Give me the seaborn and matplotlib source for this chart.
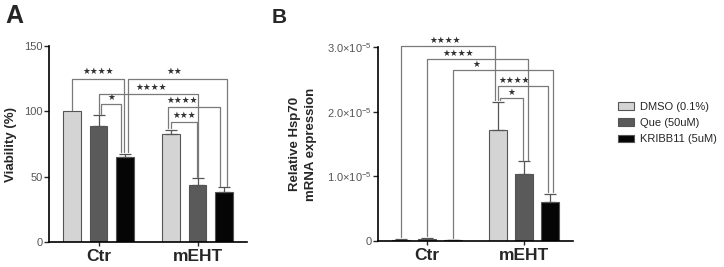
import matplotlib
matplotlib.use("Agg")
import matplotlib.pyplot as plt
import seaborn as sns
import pandas as pd
from matplotlib.patches import Patch

groups = ["Ctr", "mEHT"]
treatments = ["DMSO (0.1%)", "Que (50uM)", "KRIBB11 (5uM)"]
colors = ["#d4d4d4", "#5a5a5a", "#050505"]

# panel A: viability (%), rows = treatment, cols = group
via_mean = [[100, 83], [89, 43.5], [65, 38]]
via_sd = [[0, 3], [8, 5.5], [2.5, 4]]

# panel B: relative Hsp70 mRNA
hsp_mean = [[0.02e-5, 1.72e-5], [0.03e-5, 1.04e-5], [0.01e-5, 0.60e-5]]
hsp_sd = [[0.01e-5, 0.43e-5], [0.02e-5, 0.19e-5], [0.005e-5, 0.13e-5]]

# brackets: (bar a, bar b, height, label, leg dx a, leg dx b, text dx); bar = (treatment, group)
brackets_a = [
    ((0, 0), (2, 0), 125, "★★★★", 0.0, -0.01, 0.0),
    ((2, 0), (2, 1), 125, "★★", 0.035, 0.03, -0.03),
    ((1, 0), (1, 1), 113, "★★★★", 0.0, 0.01, 0.03),
    ((1, 0), (2, 0), 105.5, "★", 0.025, -0.04, 0.0),
    ((0, 1), (2, 1), 103, "★★★★", -0.03, -0.035, -0.12),
    ((0, 1), (1, 1), 91.5, "★★★", 0.0, -0.01, 0.0),
]
brackets_b = [
    ((0, 0), (0, 1), 3.02e-5, "★★★★", 0.0, -0.035, -0.03),
    ((1, 0), (1, 1), 2.82e-5, "★★★★", 0.0, 0.04, -0.2),
    ((2, 0), (2, 1), 2.64e-5, "★", 0.0, 0.025, -0.27),
    ((0, 1), (2, 1), 2.40e-5, "★★★★", 0.0, -0.025, -0.09),
    ((0, 1), (1, 1), 2.21e-5, "★", 0.02, -0.013, 0.0),
]

sns.set_style("ticks")
plt.rcParams["font.family"] = ["Liberation Sans", "DejaVu Sans"]
plt.rcParams["mathtext.fontset"] = "custom"
plt.rcParams["mathtext.rm"] = "Liberation Sans"
plt.rcParams["mathtext.it"] = "Liberation Sans"


def make_df(means):
    rows = []
    for t, tr in enumerate(treatments):
        for g, gr in enumerate(groups):
            rows.append({"group": gr, "treatment": tr, "value": means[t][g]})
    return pd.DataFrame(rows)


def draw_panel(ax, means, sds, brackets, ymax, gap_y, text_off):
    df = make_df(means)
    sns.barplot(data=df, x="group", y="value", hue="treatment", hue_order=treatments,
                palette=colors, width=0.8, gap=0.32, errorbar=None, legend=False,
                edgecolor="#555555", linewidth=0.8, ax=ax)
    bar_conts = list(ax.containers)
    centers = {}
    tops = {}
    for t, cont in enumerate(bar_conts):
        for g, bar in enumerate(cont):
            cx = bar.get_x() + bar.get_width() / 2
            centers[(t, g)] = cx
            tops[(t, g)] = means[t][g] + sds[t][g]
            if sds[t][g] > 0:
                ax.errorbar(cx, means[t][g], yerr=[[0], [sds[t][g]]], fmt="none",
                            ecolor="#555555", elinewidth=0.9, capsize=4, capthick=0.9)
    for a, b, h, lab, dxa, dxb, tdx in brackets:
        xa = centers[a] + dxa
        xb = centers[b] + dxb
        ya = tops[a] + gap_y
        yb = tops[b] + gap_y
        ax.plot([xa, xa, xb, xb], [ya, h, h, yb], color="#7a7a7a", lw=0.9,
                clip_on=False, zorder=5)
        ax.annotate(lab, ((xa + xb) / 2 + tdx, h), xytext=(0, text_off),
                    textcoords="offset points", ha="center", va="center",
                    fontsize=6.3, color="#333333", family="DejaVu Sans",
                    annotation_clip=False)
    ax.set_xlim(-0.5, 1.5)
    ax.set_ylim(0, ymax)
    ax.set_xlabel("")
    sns.despine(ax=ax)
    for s in ["left", "bottom"]:
        ax.spines[s].set_linewidth(1.2)
        ax.spines[s].set_color("black")
    ax.tick_params(axis="y", length=3.5, width=1, pad=1, labelsize=8, labelcolor="#555555")
    ax.tick_params(axis="x", length=3, width=1, pad=2, labelsize=12.5)
    for lbl in ax.get_xticklabels():
        lbl.set_fontweight("bold")


fig = plt.figure(figsize=(7.24, 2.67), dpi=100)
axA = fig.add_axes([49 / 724, 25 / 267, 198 / 724, 196 / 267])
axB = fig.add_axes([378 / 724, 26 / 267, 195 / 724, 194 / 267])

draw_panel(axA, via_mean, via_sd, brackets_a, 150, 1.0, 5)
axA.set_yticks([0, 50, 100, 150])
axA.set_ylabel("Viability (%)", fontsize=9.5, fontweight="bold")
axA.yaxis.set_label_coords(-0.16, 0.5)

draw_panel(axB, hsp_mean, hsp_sd, brackets_b, 3e-5, 0.03e-5, 4)
axB.set_yticks([0, 1e-5, 2e-5, 3e-5])
axB.set_yticklabels(["0"] + [f"{v:.1f}×10$^{{-5}}$" for v in [1, 2, 3]])
axB.set_ylabel("Relative Hsp70\nmRNA expression", fontsize=9.5, fontweight="bold",
               linespacing=1.4)
axB.yaxis.set_label_coords(-0.315, 0.5)

fig.text(5 / 724, 1 - 4 / 267, "A", fontsize=18, fontweight="bold", va="top", ha="left")
fig.text(272 / 724, 1 - 8 / 267, "B", fontsize=15, fontweight="bold", va="top", ha="left")

handles = [Patch(facecolor=c, edgecolor="#555555", linewidth=0.8) for c in colors]
fig.legend(handles, treatments, loc="upper left", bbox_to_anchor=(608 / 724, 1 - 92 / 267),
           frameon=False, fontsize=8, handlelength=1.4, handleheight=0.65,
           handletextpad=0.6, labelspacing=0.55)

fig.savefig("out.png", dpi=100)
